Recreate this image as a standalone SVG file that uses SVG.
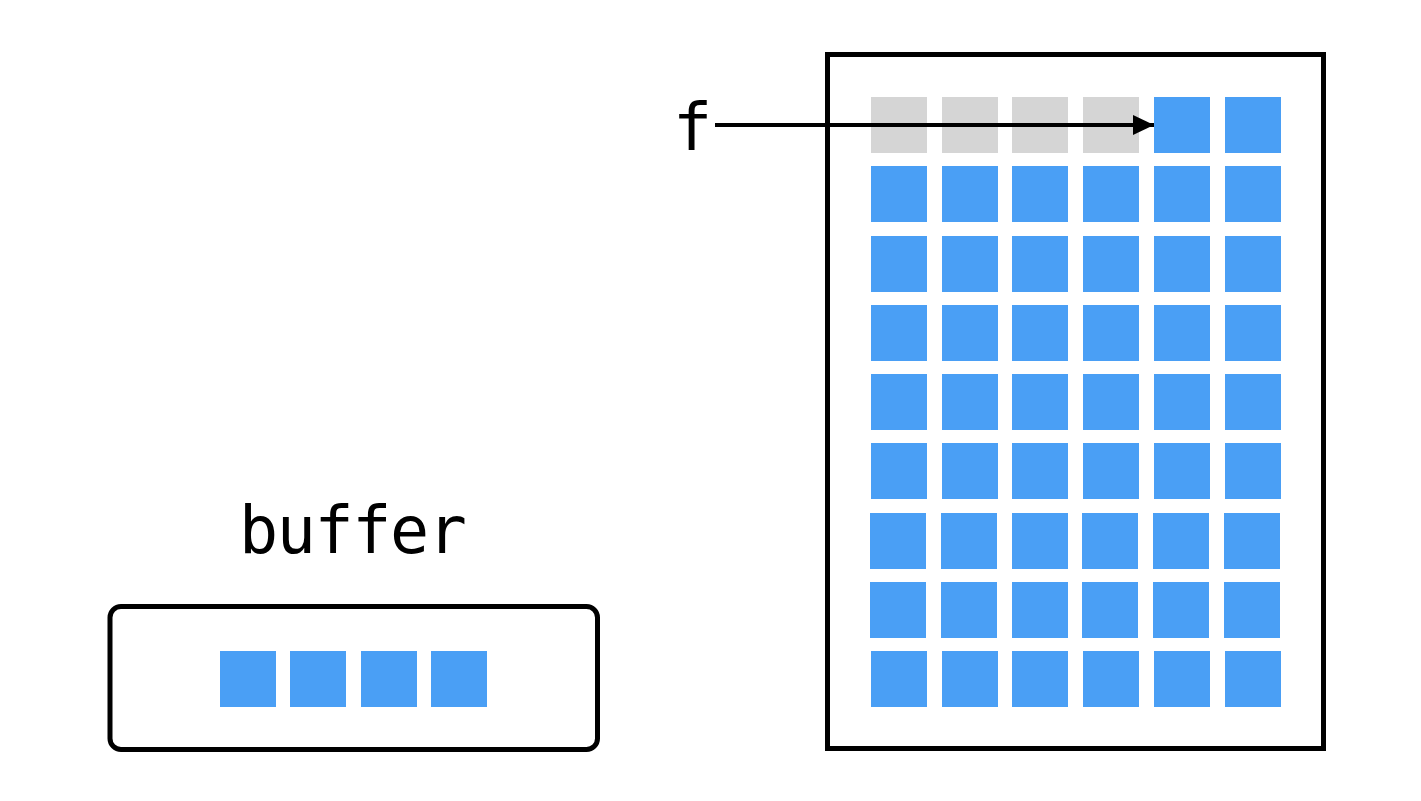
<svg xmlns="http://www.w3.org/2000/svg" width="1421" height="801" viewBox="0 0 1421 801">
<defs>
<style>
.cell{fill:#4A9FF5}
.done{fill:#D5D5D5}
.frame{fill:none;stroke:#000;stroke-width:5}
.lbl{font-family:"DejaVu Sans Mono","Liberation Mono",monospace;font-size:65px;fill:#000}
</style>
<marker id="ah" markerWidth="22" markerHeight="20" refX="21" refY="10" orient="auto" markerUnits="userSpaceOnUse">
<path d="M0,0 L21,10 L0,20 Z" fill="#000"/>
</marker>
</defs>
<rect width="1421" height="801" fill="#fff"/>
<g id="memory">
<rect class="frame" x="827.5" y="54.5" width="496" height="694"/>
<g id="row0">
<rect class="done" x="871" y="97" width="56" height="56"/>
<rect class="done" x="942" y="97" width="56" height="56"/>
<rect class="done" x="1012" y="97" width="56" height="56"/>
<rect class="done" x="1083" y="97" width="56" height="56"/>
<rect class="cell" x="1154" y="97" width="56" height="56"/>
<rect class="cell" x="1225" y="97" width="56" height="56"/>
</g>
<g id="rows">
<rect class="cell" x="871" y="166" width="56" height="56"/><rect class="cell" x="942" y="166" width="56" height="56"/><rect class="cell" x="1012" y="166" width="56" height="56"/><rect class="cell" x="1083" y="166" width="56" height="56"/><rect class="cell" x="1154" y="166" width="56" height="56"/><rect class="cell" x="1225" y="166" width="56" height="56"/>
<rect class="cell" x="871" y="236" width="56" height="56"/><rect class="cell" x="942" y="236" width="56" height="56"/><rect class="cell" x="1012" y="236" width="56" height="56"/><rect class="cell" x="1083" y="236" width="56" height="56"/><rect class="cell" x="1154" y="236" width="56" height="56"/><rect class="cell" x="1225" y="236" width="56" height="56"/>
<rect class="cell" x="871" y="305" width="56" height="56"/><rect class="cell" x="942" y="305" width="56" height="56"/><rect class="cell" x="1012" y="305" width="56" height="56"/><rect class="cell" x="1083" y="305" width="56" height="56"/><rect class="cell" x="1154" y="305" width="56" height="56"/><rect class="cell" x="1225" y="305" width="56" height="56"/>
<rect class="cell" x="871" y="374" width="56" height="56"/><rect class="cell" x="942" y="374" width="56" height="56"/><rect class="cell" x="1012" y="374" width="56" height="56"/><rect class="cell" x="1083" y="374" width="56" height="56"/><rect class="cell" x="1154" y="374" width="56" height="56"/><rect class="cell" x="1225" y="374" width="56" height="56"/>
<rect class="cell" x="871" y="443" width="56" height="56"/><rect class="cell" x="942" y="443" width="56" height="56"/><rect class="cell" x="1012" y="443" width="56" height="56"/><rect class="cell" x="1083" y="443" width="56" height="56"/><rect class="cell" x="1154" y="443" width="56" height="56"/><rect class="cell" x="1225" y="443" width="56" height="56"/>
<rect class="cell" x="870" y="513" width="56" height="56"/><rect class="cell" x="941" y="513" width="56" height="56"/><rect class="cell" x="1012" y="513" width="56" height="56"/><rect class="cell" x="1082" y="513" width="56" height="56"/><rect class="cell" x="1153" y="513" width="56" height="56"/><rect class="cell" x="1224" y="513" width="56" height="56"/>
<rect class="cell" x="870" y="582" width="56" height="56"/><rect class="cell" x="941" y="582" width="56" height="56"/><rect class="cell" x="1012" y="582" width="56" height="56"/><rect class="cell" x="1082" y="582" width="56" height="56"/><rect class="cell" x="1153" y="582" width="56" height="56"/><rect class="cell" x="1224" y="582" width="56" height="56"/>
<rect class="cell" x="871" y="651" width="56" height="56"/><rect class="cell" x="942" y="651" width="56" height="56"/><rect class="cell" x="1012" y="651" width="56" height="56"/><rect class="cell" x="1083" y="651" width="56" height="56"/><rect class="cell" x="1154" y="651" width="56" height="56"/><rect class="cell" x="1225" y="651" width="56" height="56"/>
</g>
</g>
<g id="f-label">
<text class="lbl" x="673" y="150">f</text>
</g>
<g id="buffer">
<text class="lbl" x="239" y="553" textLength="228" lengthAdjust="spacing">buffer</text>
<rect class="frame" x="110" y="606.5" width="487.5" height="143" rx="11"/>
<rect class="cell" x="220" y="651" width="56" height="56"/>
<rect class="cell" x="290" y="651" width="56" height="56"/>
<rect class="cell" x="361" y="651" width="56" height="56"/>
<rect class="cell" x="431" y="651" width="56" height="56"/>
</g>
<g id="connectors">
<line x1="715" y1="125" x2="1154" y2="125" stroke="#000" stroke-width="4" marker-end="url(#ah)"/>
</g>
</svg>
